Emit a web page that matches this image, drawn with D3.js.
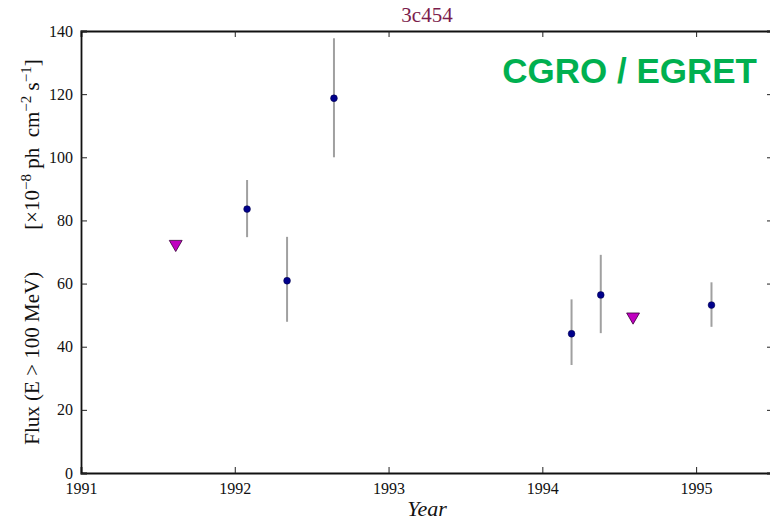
<!DOCTYPE html>
<html>
<head>
<meta charset="utf-8">
<script src="https://cdn.jsdelivr.net/npm/d3@7"></script>
<style>
  html, body { margin: 0; padding: 0; background: #fff; }
  svg { display: block; }
</style>
</head>
<body>
<svg id="chart" width="770" height="520"></svg>
<script>
// EGRET light curve of 3C 454.3 (flux above 100 MeV)
const detYear  = [1992.08, 1992.34, 1992.645, 1994.19, 1994.38, 1995.10];
const detFlux  = [83.6, 60.9, 118.7, 44.1, 56.4, 53.2];
const detLow   = [74.7, 47.9, 100.0, 34.2, 44.3, 46.3];
const detHigh  = [92.8, 74.8, 137.7, 55.0, 69.1, 60.4];
const ulYear   = [1991.616, 1994.59];
const ulFlux   = [72.5, 49.5];
const xTicks   = [1991, 1992, 1993, 1994, 1995];
const yTicks   = [0, 20, 40, 60, 80, 100, 120, 140];

const svg = d3.select("#chart");
const plotL = 81, plotR = 773, plotT = 31, plotB = 473;
const serif = "'Liberation Serif', 'DejaVu Serif', serif";

const x = d3.scaleLinear().domain([1991, 1995.5]).range([plotL, plotR]);
const y = d3.scaleLinear().domain([0, 140]).range([plotB, plotT]);

// inward ticks on all four sides
const tickLen = 6;
const axes = [
  {g: d3.axisBottom(x).tickValues(xTicks).tickSize(-tickLen).tickPadding(10).tickFormat(d3.format("d")), t: `translate(0,${plotB})`},
  {g: d3.axisTop(x).tickValues(xTicks).tickSize(-tickLen).tickFormat(""), t: `translate(0,${plotT})`},
  {g: d3.axisLeft(y).tickValues(yTicks).tickSize(-tickLen).tickPadding(8), t: `translate(${plotL},0)`},
  {g: d3.axisRight(y).tickValues(yTicks).tickSize(-tickLen).tickFormat(""), t: `translate(${plotR},0)`}
];
axes.forEach(a => {
  const g = svg.append("g").attr("transform", a.t).call(a.g);
  g.select(".domain").attr("stroke", "#111").attr("stroke-width", 1.8);
  g.selectAll(".tick line").attr("stroke", "#222").attr("stroke-width", 1);
  g.selectAll(".tick text").attr("font-family", serif).attr("font-size", 16).attr("fill", "#111");
});

// error bars
svg.append("g").selectAll("line").data(detYear).join("line")
  .attr("x1", d => x(d)).attr("x2", d => x(d))
  .attr("y1", (d, i) => y(detHigh[i])).attr("y2", (d, i) => y(detLow[i]))
  .attr("stroke", "#a0a0a0").attr("stroke-width", 2);

// detections
svg.append("g").selectAll("circle").data(detYear).join("circle")
  .attr("cx", d => x(d)).attr("cy", (d, i) => y(detFlux[i]))
  .attr("r", 3.4).attr("fill", "#00008b").attr("stroke", "#000040").attr("stroke-width", 0.5);

// upper limits
const tri = d3.symbol().type(d3.symbolTriangle).size(72);
svg.append("g").selectAll("path").data(ulYear).join("path")
  .attr("d", tri)
  .attr("transform", (d, i) => `translate(${x(d)},${y(ulFlux[i])}) rotate(180)`)
  .attr("fill", "#c000c0").attr("stroke", "#3a003a").attr("stroke-width", 0.8);

// title
svg.append("text").attr("x", (plotL + plotR) / 2).attr("y", 22)
  .attr("text-anchor", "middle").attr("font-family", serif).attr("font-size", 21)
  .attr("fill", "#7b1c4c").text("3c454");

// instrument label
svg.append("text").attr("x", 757).attr("y", 83)
  .attr("text-anchor", "end").attr("font-family", "'Liberation Sans', Arial, sans-serif")
  .attr("font-weight", "bold").attr("font-size", 35).attr("fill", "#00b050")
  .text("CGRO / EGRET");

// x label
svg.append("text").attr("x", (plotL + plotR) / 2).attr("y", 516)
  .attr("text-anchor", "middle").attr("font-family", serif).attr("font-size", 22)
  .attr("font-style", "italic").attr("fill", "#111").text("Year");

// y label
const yl = svg.append("text")
  .attr("transform", `translate(39,${(plotT + plotB) / 2}) rotate(-90)`)
  .attr("text-anchor", "middle").attr("font-family", serif).attr("font-size", 21).attr("fill", "#111");
yl.append("tspan").text("Flux (E > 100 MeV)\u2003\u2003[\u00d710");
yl.append("tspan").attr("dy", -8).attr("font-size", 15).text("\u22128");
yl.append("tspan").attr("dy", 8).text(" ph\u2002cm");
yl.append("tspan").attr("dy", -8).attr("font-size", 15).text("\u22122");
yl.append("tspan").attr("dy", 8).text(" s");
yl.append("tspan").attr("dy", -8).attr("font-size", 15).text("\u22121");
yl.append("tspan").attr("dy", 8).text("]");
</script>
</body>
</html>
